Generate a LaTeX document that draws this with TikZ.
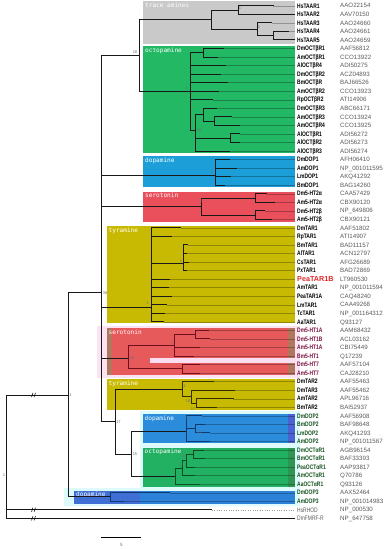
\documentclass[tikz,border=0pt]{standalone}
\usepackage{fontspec}
\setmainfont{Liberation Sans}
\newfontfamily\namefont[FakeStretch=0.76]{Liberation Sans}
\newfontfamily\boxfont{DejaVu Sans Mono}
\newcommand\ry[1]{(5.7+(#1-1)*8.543)}
\definecolor{cgray}{HTML}{C9C9C9}
\definecolor{cgreen}{HTML}{22B864}
\definecolor{cblue}{HTML}{1C9FD9}
\definecolor{cred}{HTML}{E9505C}
\definecolor{cyel}{HTML}{C8BA02}
\definecolor{cred2}{HTML}{E65A5C}
\definecolor{cbrown}{HTML}{B2765E}
\definecolor{cpink}{HTML}{FCE3F3}
\definecolor{cbar}{HTML}{FBDDF2}
\definecolor{ccyan}{HTML}{DDFBFB}
\definecolor{cblue2}{HTML}{2A8CDA}
\definecolor{cpurp}{HTML}{4A62D2}
\definecolor{cgreen2}{HTML}{22B062}
\definecolor{cdgreen}{HTML}{2E9652}
\definecolor{cblue3}{HTML}{2C82D8}
\definecolor{cblue3l}{HTML}{3F6ED4}
\definecolor{cmag}{HTML}{7A1040}
\definecolor{cdg}{HTML}{12521F}
\definecolor{cacc}{HTML}{5A5A5A}
\definecolor{cboot}{HTML}{6E6E6E}
\definecolor{cpea}{HTML}{E02828}
\definecolor{lred}{HTML}{70101E}
\definecolor{lgrn}{HTML}{0B4D22}
\definecolor{lblu}{HTML}{0D3B70}
\definecolor{lyel}{HTML}{333000}
\tikzset{
  br/.style={line width=0.85pt, line cap=rect},
  guide/.style={line width=0.3pt, draw=black, draw opacity=0.28},
  nmbase/.style={anchor=west, inner sep=0pt, text height=4.6pt, text depth=0pt},
  nmk/.style={nmbase, font=\namefont\bfseries\fontsize{6.5}{7}\selectfont, text=black},
  nmr/.style={nmbase, font=\namefont\bfseries\fontsize{6.5}{7}\selectfont, text=cmag},
  nmg/.style={nmbase, font=\namefont\bfseries\fontsize{6.5}{7}\selectfont, text=cdg},
  nmx/.style={nmbase, font=\namefont\fontsize{6.5}{7}\selectfont, text=cacc},
  nmp/.style={nmbase, text height=5.2pt, font=\bfseries\fontsize{7.2}{8}\selectfont, text=cpea},
  acc/.style={anchor=west, inner sep=0pt, text height=4.5pt, text depth=0pt, font=\fontsize{6.2}{7}\selectfont, text=cacc},
  boxlab/.style={anchor=north west, inner sep=0pt, text height=4.4pt, text depth=0pt, font=\boxfont\fontsize{6.1}{7}\selectfont, text=white},
  boot/.style={inner sep=0pt, font=\fontsize{4}{4}\selectfont, text=cboot},
}
\begin{document}
\begin{tikzpicture}[x=1pt,y=-1pt]
\useasboundingbox (0,0) rectangle (387,550);
% ---------- backgrounds ----------
\fill[cpink] (97,325.5) rectangle (300,377.5);
\fill[ccyan] (140,411) -- (300,411) -- (300,506) -- (64,506) -- (64,488) -- (140,488) -- cycle;
\fill[cgray] (143,1) rectangle (295,44);
\fill[cgreen] (143,46) rectangle (295,152.7);
\fill[cblue] (143,156) rectangle (295,187);
\fill[cred] (143,191.7) rectangle (295,221.7);
\fill[cyel] (106.7,226) rectangle (295,323.3);
\fill[cbrown] (106.7,328.3) rectangle (295,375);
\fill[cred2] (112,328.3) rectangle (288,375);
\fill[cbar] (150,357.5) rectangle (295,362.5);
\fill[cyel] (106.7,379) rectangle (295,409.5);
\fill[cpurp] (142.7,414) rectangle (295,443.3);
\fill[cblue2] (142.7,414) rectangle (288,443.3);
\fill[cdgreen] (142.7,447.7) rectangle (295,486.7);
\fill[cgreen2] (142.7,447.7) rectangle (288,486.7);
\fill[cblue3] (74,491) rectangle (295,503.7);
\fill[cblue3l] (74,491) rectangle (140,503.7);
% box labels
\node[boxlab] (bl1) at (145,2.5) {trace amines};
\node[boxlab] (bl2) at (145,47.5) {octopamine};
\node[boxlab] (bl3) at (145,157.5) {dopamine};
\node[boxlab] (bl4) at (145,193) {serotonin};
\node[boxlab] (bl5) at (108.5,227.5) {tyramine};
\node[boxlab] (bl6) at (108.5,329.8) {serotonin};
\node[boxlab] (bl7) at (108.5,380.5) {tyramine};
\node[boxlab] (bl8) at (144.5,415.5) {dopamine};
\node[boxlab] (bl9) at (144.5,449.2) {octopamine};
\node[boxlab] (bl10) at (76,492.3) {dopamine};
% ---------- leaves ----------
\foreach \i/\n/\a/\e/\s in {
1/HsTAAR1/AAO22154/273.3/nmk,
2/HsTAAR2/AAV70150/295/nmk,
3/HsTAAR3/AAO24660/271.7/nmk,
4/HsTAAR4/AAO24661/288.3/nmk,
5/HsTAAR5/AAO24659/295/nmk,
6/DmOCTβR1/AAF56812/223.3/nmk,
7/AmOCTβR1/CCO13922/218/nmk,
8/AlOCTβR4/ADI50275/226/nmk,
9/DmOCTβR2/ACZ04893/221/nmk,
10/BmOCTβR/BAJ66526/227.3/nmk,
11/AmOCTβR2/CCO13923/218.3/nmk,
12/RpOCTβR2/ATI14906/212.7/nmk,
13/DmOCTβR3/ABC66171/216.7/nmk,
14/AmOCTβR3/CCO13924/232/nmk,
15/AmOCTβR4/CCO13925/240/nmk,
16/AlOCTβR1/ADI56272/240/nmk,
17/AlOCTβR2/ADI56273/240/nmk,
18/AlOCTβR3/ADI56274/229.3/nmk,
19/DmDOP1/AFH06410/229.3/nmk,
20/AmDOP1/NP\_001011595/236.7/nmk,
21/LmDOP1/AKQ41292/230.7/nmk,
22/BmDOP1/BAG14260/225/nmk,
23/Dm5-HT2α/CAA57429/266.7/nmk,
24/Am5-HT2α/CBX90120/275/nmk,
25/Dm5-HT2β/NP\_649806/265/nmk,
26/Am5-HT2β/CBX90121/271.7/nmk,
27/DmTAR1/AAF51802/180.7/nmk,
28/RpTAR1/ATI14907/171.7/nmk,
29/BmTAR1/BAD11157/188/nmk,
30/AlTAR1/ACN12797/187/nmk,
31/CsTAR1/AFG26689/189/nmk,
32/PxTAR1/BAD72869/187/nmk,
33/PeaTAR1B/LT960530/170/nmp,
34/AmTAR1/NP\_001011594/168.3/nmk,
35/PeaTAR1A/CAQ48240/171.7/nmk,
36/LmTAR1/CAA49268/166.7/nmk,
37/TcTAR1/NP\_001164312/165/nmk,
38/AaTAR1/Q93127/164/nmk,
39/Dm5-HT1A/AAM68432/208.3/nmr,
40/Dm5-HT1B/ACL03162/210/nmr,
41/Am5-HT1A/CBI75449/200/nmr,
42/Bm5-HT1/Q17239/193.3/nmr,
43/Dm5-HT7/AAF57104/200/nmr,
44/Am5-HT7/CAJ28210/200/nmr,
45/DmTAR2/AAF55463/213.3/nmk,
46/DmTAR3/AAF55462/235/nmk,
47/AmTAR2/APL96716/233.3/nmk,
48/BmTAR2/BAI52937/216.7/nmk,
49/DmDOP2/AAF56908/202/nmg,
50/BmDOP2/BAF98648/205/nmg,
51/LmDOP2/AKQ41293/210/nmg,
52/AmDOP2/NP\_001011567/210/nmg,
53/DmOCTαR1/AGB96154/203.3/nmg,
54/BmOCTαR1/BAF33393/205/nmg,
55/PeaOCTαR1/AAP93817/195/nmg,
56/AmOCTαR1/Q70786/195/nmg,
57/AaOCTαR1/Q93126/200/nmg,
58/DmDOP3/AAX52464/170/nmg,
59/AmDOP3/NP\_001014983/124/nmg,
60/HsRHOD/NP\_000530/211.7/nmx,
61/DmFMRF-R/NP\_647758/295/nmx}{
  \coordinate (l\i) at (\e,{\ry{\i}});
  \coordinate (g\i) at (295,{\ry{\i}});
  \node[\s] (n\i) at (297,{\ry{\i}}) {\n};
  \node[acc] (a\i) at (340,{\ry{\i}}) {\a};
}
% guide lines
\foreach \i in {1,...,59}{\draw[guide] (l\i) -- (g\i);}
\draw[line width=0.4pt, draw=black!40, dotted] (l60) -- (g60);
% ---------- internal nodes ----------
\coordinate (TA12) at (238.3,9.97);
\coordinate (TA45) at (273.3,35.6);
\coordinate (TA35) at (257.3,29.2);
\coordinate (TA) at (211,19.6);
\coordinate (NOT) at (139.3,55.5);
\coordinate (OB) at (190,91.1);
\coordinate (OB12) at (203.3,52.69);
\coordinate (OB2) at (195,130);
\coordinate (OB3) at (203.3,114.6);
\coordinate (OB34) at (214,121.03);
\coordinate (OBAl) at (230,138.12);
\coordinate (D1) at (215,175);
\coordinate (S2) at (201,206.5);
\coordinate (S2a) at (255,197.92);
\coordinate (S2b) at (255,215.0);
\coordinate (T1) at (151.7,307.3);
\coordinate (T1s) at (183.3,263.3);
\coordinate (S1) at (128.3,358);
\coordinate (S1a) at (174,345.3);
\coordinate (S1ab) at (195,334.61);
\coordinate (S7) at (182.3,368.78);
\coordinate (N115) at (115,421.7);
\coordinate (T2) at (182.3,389.05);
\coordinate (T2b) at (191.7,396.5);
\coordinate (T2c) at (196.7,402.95);
\coordinate (N131) at (131.7,454.3);
\coordinate (D2) at (186.7,431.7);
\coordinate (D2b) at (195,428.58);
\coordinate (O2) at (175,476.1);
\coordinate (O2a) at (182.3,468.1);
\coordinate (O2b) at (186.7,460.6);
\coordinate (O2c) at (193.3,454.21);
\coordinate (N101) at (101,292.7);
\coordinate (N68) at (68.3,395);
\coordinate (D3) at (110,496.9);
\coordinate (R) at (6.7,456);
% ---------- branches ----------
\begin{scope}[br, draw=black!90]
\draw (TA12) |- (l1); \draw (TA12) |- (l2);
\draw (TA45) |- (l4); \draw (TA45) |- (l5);
\draw (TA35) |- (l3); \draw (TA35) |- (TA45);
\draw (TA) |- (TA12); \draw (TA) |- (TA35);
\draw (NOT) |- (TA); \draw (NOT) |- (OB);
\draw (OB) |- (OB12); \draw (OB12) |- (l6); \draw (OB12) |- (l7);
\foreach \k in {8,...,12}{\draw (OB) |- (l\k);}
\draw (OB) |- (OB2); \draw (OB2) |- (OB3);
\draw (OB3) |- (l13); \draw (OB3) |- (OB34);
\draw (OB34) |- (l14); \draw (OB34) |- (l15);
\draw (OB2) |- (OBAl); \draw (OBAl) |- (l16); \draw (OBAl) |- (l17);
\draw (OB2) |- (l18);
\foreach \k in {19,...,22}{\draw (D1) |- (l\k);}
\draw (S2) |- (S2a); \draw (S2) |- (S2b);
\draw (S2a) |- (l23); \draw (S2a) |- (l24);
\draw (S2b) |- (l25); \draw (S2b) |- (l26);
\draw (T1) |- (l27); \draw (T1) |- (l28); \draw (T1) |- (T1s);
\foreach \k in {29,...,32}{\draw (T1s) |- (l\k);}
\foreach \k in {33,...,38}{\draw (T1) |- (l\k);}
\draw (N101) |- (NOT); \draw (N101) |- (D1); \draw (N101) |- (S2);
\draw (N101) |- (T1); \draw (N101) |- (S1); \draw (N101) |- (N115);
\draw (N115) |- (T2); \draw (N115) |- (N131);
\draw (N131) |- (D2); \draw (N131) |- (O2);
\draw (N68) |- (N101); \draw (N68) |- (D3);
\draw (R) |- (N68); \draw (R) |- (l60); \draw (R) |- (l61);
\end{scope}
\begin{scope}[br, draw=lred]
\draw (S1) |- (S1a); \draw (S1) |- (S7);
\draw (S1a) |- (S1ab); \draw (S1a) |- (l41); \draw (S1a) |- (l42);
\draw (S1ab) |- (l39); \draw (S1ab) |- (l40);
\draw (S7) |- (l43); \draw (S7) |- (l44);
\end{scope}
\begin{scope}[br, draw=lyel]
\draw (T2) |- (l45); \draw (T2) |- (T2b);
\draw (T2b) |- (l46); \draw (T2b) |- (T2c);
\draw (T2c) |- (l47); \draw (T2c) |- (l48);
\end{scope}
\begin{scope}[br, draw=lblu]
\draw (D2) |- (l49); \draw (D2) |- (D2b); \draw (D2) |- (l52);
\draw (D2b) |- (l50); \draw (D2b) |- (l51);
\draw (D3) |- (l58); \draw (D3) |- (l59);
\end{scope}
\begin{scope}[br, draw=lgrn]
\draw (O2) |- (O2a); \draw (O2) |- (l57);
\draw (O2a) |- (O2b); \draw (O2a) |- (l56);
\draw (O2b) |- (O2c); \draw (O2b) |- (l55);
\draw (O2c) |- (l53); \draw (O2c) |- (l54);
\end{scope}
% break marks on root branches
\foreach \yy in {395,509.74,518.28}{
  \draw[line width=0.5pt] (31.5,\yy+2.2) -- (33,\yy-2.2);
  \draw[line width=0.5pt] (34,\yy+2.2) -- (35.5,\yy-2.2);
}
% ---------- support values ----------
\node[boot] (b1) at (135,51.7) {18};
\node[boot] (b2) at (187,88) {1};
\node[boot] (b3) at (199,130) {15};
\node[boot] (b4) at (212,172) {1};
\node[boot] (b5) at (201.8,201) {1};
\node[boot] (b6) at (105,293) {38};
\node[boot] (b7) at (147.7,302.7) {1};
\node[boot] (b8) at (181,261) {1};
\node[boot] (b9) at (70.5,395) {1};
\node[boot] (b10) at (132,358.5) {18};
\node[boot] (b11) at (172.5,343) {1};
\node[boot] (b12) at (198.3,332.5) {1};
\node[boot] (b13) at (184.5,386.5) {1};
\node[boot] (b14) at (188,400.7) {16};
\node[boot] (b15) at (193,409) {17};
\node[boot] (b16) at (118.5,421.7) {17};
\node[boot] (b17) at (135,454.3) {15};
\node[boot] (b18) at (188,418.3) {14};
\node[boot] (b19) at (199,431.7) {13};
\node[boot] (b20) at (181,465) {12};
\node[boot] (b21) at (184.3,456) {15};
\node[boot] (b22) at (196.7,451) {1};
\node[boot] (b23) at (240,8) {1};
\node[boot] (b24) at (259,27) {1};
\node[boot] (b25) at (4,475) {1};
% ---------- scale bar ----------
\coordinate (sb1) at (101,537.7);
\coordinate (sb2) at (141,537.7);
\draw[line width=0.8pt] (sb1) -- (sb2);
\node[boot, font=\fontsize{4.5}{5}\selectfont] (sbl) at (121.5,544.5) {5};
\end{tikzpicture}
\end{document}
